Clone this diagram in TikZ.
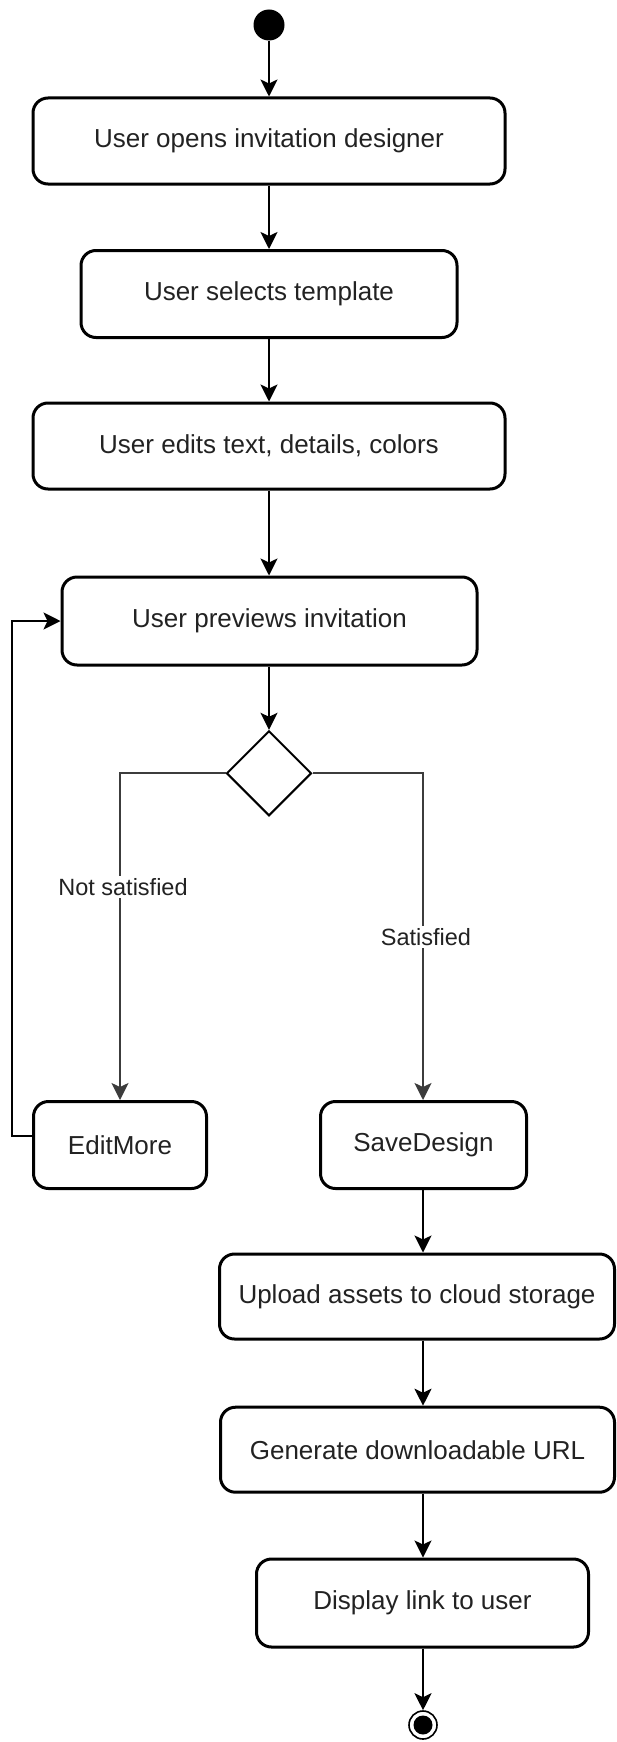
\documentclass[tikz,border=0pt]{standalone}
\usepackage{fontspec}
\setmainfont{Liberation Sans}
\usetikzlibrary{arrows.meta,shapes.geometric}
\definecolor{txt}{HTML}{222222}
\definecolor{branchgray}{HTML}{3C3C3C}
\begin{document}
\begin{tikzpicture}[x=1pt,y=-1pt,
  act/.style={draw=black, line width=3pt, rounded corners=15pt, fill=white,
    text=txt, font=\fontsize{26}{30}\selectfont, inner sep=0pt},
  tip/.style={-{Stealth[length=17pt,width=17pt,inset=4pt]}},
  flow/.style={draw=black, line width=2pt, tip},
  branch/.style={draw=branchgray, line width=2pt, tip},
  guard/.style={fill=white, text=txt, font=\fontsize{23.5}{27}\selectfont, inner sep=2pt},
  decision/.style={diamond, aspect=1, draw=black, line width=2pt, fill=white,
    minimum width=85pt, minimum height=85pt, inner sep=0pt}
]
\useasboundingbox (0,0) rectangle (617,1742);

% column of the right-hand branch
\coordinate (rcol) at (423,0);

% start
\node[circle, fill=black, minimum size=31pt, inner sep=0pt] (Start) at (269,25) {};

% main sequence
\node[act, minimum width=472pt, minimum height=86pt] (Open) at (269,141) {User opens invitation designer};
\node[act, minimum width=376pt, minimum height=87pt] (Select) at (269,294) {User selects template};
\node[act, minimum width=472pt, minimum height=86pt] (Edit) at (269,446) {User edits text, details, colors};
\node[act, minimum width=415pt, minimum height=88pt] (Preview) at (269.5,621) {User previews invitation};
\node[decision] (Dec) at (269,773.3) {};

% branches
\node[act, minimum width=173pt, minimum height=87pt] (EditMore) at (120,1145) {EditMore};
\node[act, minimum width=206pt, minimum height=87pt] (SaveDesign) at (423.5,1145) {SaveDesign};

% publishing steps
\node[act, minimum width=395pt, minimum height=85pt] (Upload) at (417,1296.5) {Upload assets to cloud storage};
\node[act, minimum width=394pt, minimum height=85pt] (Generate) at (417.5,1449.7) {Generate downloadable URL};
\node[act, minimum width=332pt, minimum height=88pt] (Display) at (422.5,1603) {Display link to user};

% end
\node[circle, draw=black, line width=1.6pt, fill=white, minimum size=28pt, inner sep=0pt] (End) at (423,1725) {};
\node[circle, fill=black, minimum size=19pt, inner sep=0pt] (EndDot) at (End.center) {};

% connectors
\draw[flow] (Start.south) -- (Open.north);
\draw[flow] (Open.south) -- (Select.north);
\draw[flow] (Select.south) -- (Edit.north);
\draw[flow] (Edit.south) -- (Edit.south |- Preview.north);
\draw[flow] (Preview.south -| Dec) -- (Dec.north);

\draw[branch] (Dec.west) -| (EditMore.north);
\draw[branch] (Dec.east) -| (SaveDesign.north -| rcol);
\node[guard] (NotSat) at (123,887) {Not satisfied};
\node[guard] (Sat) at (426,937) {Satisfied};

\draw[flow] ([yshift=9pt]EditMore.west) -- ++(-20.5,0) |- (Preview.west);

\draw[flow] (SaveDesign.south -| rcol) -- (Upload.north -| rcol);
\draw[flow] (Upload.south -| rcol) -- (Generate.north -| rcol);
\draw[flow] (Generate.south -| rcol) -- (Display.north -| rcol);
\draw[flow] (Display.south -| rcol) -- (End.north);
\end{tikzpicture}
\end{document}
